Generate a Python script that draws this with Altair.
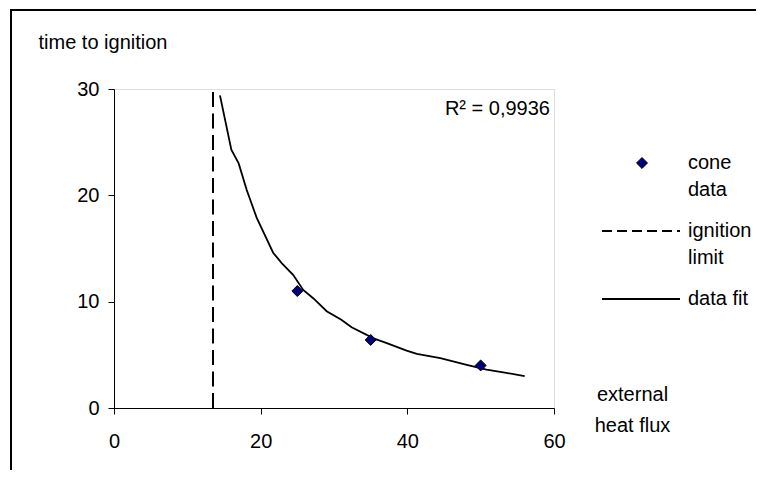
import altair as alt
import pandas as pd

# ---- data ----
cone_x = [25, 35, 50]
cone_y = [11.0, 6.4, 4.0]

limit_x = [13.5]
limit_y0 = [0]
limit_y1 = [30.3]

fit_x = [14.45, 16.0, 17.0, 18.1, 19.45, 21.7, 22.9, 24.45, 25.8, 27.2, 29.0,
         31.0, 32.4, 35.4, 37.2, 39.9, 41.3, 44.5, 48.1, 50.8, 53.5, 56.0]
fit_y = [29.4, 24.3, 23.0, 20.5, 17.9, 14.6, 13.6, 12.5, 11.1, 10.3, 9.1,
         8.3, 7.6, 6.55, 6.1, 5.4, 5.1, 4.7, 4.05, 3.6, 3.3, 3.0]

x_ticks = [0, 20, 40, 60]
y_ticks = [0, 10, 20, 30]
legend_labels = ["cone\ndata", "ignition\nlimit", "data fit"]
r2_text = "R\u00b2 = 0,9936"
y_title = "time to ignition"
x_title = ["external", "heat flux"]

FONT = "Liberation Sans, Arial, sans-serif"
FS = 20

cone_df = pd.DataFrame({"x": cone_x, "y": cone_y})
fit_df = pd.DataFrame({"x": fit_x, "y": fit_y})
limit_df = pd.DataFrame({"x": limit_x, "y": limit_y0, "y2": limit_y1})
one = pd.DataFrame({"a": [0]})
legend_df = pd.DataFrame({"label": legend_labels,
                          "ypix": [80 + 68 * i for i in range(len(legend_labels))]})

xs = alt.Scale(domain=[0, 60], nice=False)
ys = alt.Scale(domain=[0, 30], nice=False)

xaxis = alt.Axis(values=x_ticks, grid=False, domainColor="black", tickColor="black",
                 tickSize=6, labelFontSize=FS, labelFont=FONT, labelColor="black",
                 labelPadding=17, labelFlush=False, labelOverlap=False,
                 title=x_title, titleX=518, titleY=-8, titleAlign="center",
                 titleBaseline="alphabetic", titleLineHeight=31, titleFontSize=FS,
                 titleFont=FONT, titleFontWeight="normal", titleColor="black")
yaxis = alt.Axis(values=y_ticks, grid=False, domainColor="black", tickColor="black",
                 tickSize=6, labelFontSize=FS, labelFont=FONT, labelColor="black",
                 labelPadding=9, labelFlush=False, labelOverlap=False,
                 title=y_title, titleAngle=0, titleX=-76, titleY=-41,
                 titleAlign="left", titleBaseline="alphabetic", titleFontSize=FS,
                 titleFont=FONT, titleFontWeight="normal", titleColor="black")

fit = alt.Chart(fit_df).mark_line(color="black", strokeWidth=1.8).encode(
    x=alt.X("x:Q", scale=xs, axis=xaxis),
    y=alt.Y("y:Q", scale=ys, axis=yaxis),
)

limit = alt.Chart(limit_df).mark_rule(color="black", strokeWidth=2, strokeDash=[15, 6.5]).encode(
    x=alt.X("x:Q", scale=xs), y=alt.Y("y:Q", scale=ys), y2="y2:Q"
)

points = alt.Chart(cone_df).mark_point(shape="diamond", filled=True, fill="#000080",
                                       stroke="black", strokeWidth=1, size=120, opacity=1).encode(
    x=alt.X("x:Q", scale=xs), y=alt.Y("y:Q", scale=ys)
)

r2 = alt.Chart(one).mark_text(align="right", baseline="alphabetic", fontSize=FS,
                              font=FONT, color="black").encode(
    x=alt.value(436), y=alt.value(26), text=alt.value(r2_text)
)

# legend
leg_point = alt.Chart(one).mark_point(shape="diamond", filled=True, fill="#000080",
                                      stroke="black", strokeWidth=1, size=120, opacity=1).encode(
    x=alt.value(528), y=alt.value(74)
)
leg_dash = alt.Chart(one).mark_rule(color="black", strokeWidth=2, strokeDash=[10, 5]).encode(
    x=alt.value(488), x2=alt.value(566), y=alt.value(142)
)
leg_solid = alt.Chart(one).mark_rule(color="black", strokeWidth=2).encode(
    x=alt.value(488), x2=alt.value(566), y=alt.value(210)
)
leg_text = alt.Chart(legend_df).mark_text(align="left", baseline="alphabetic", lineBreak="\n",
                                          lineHeight=27, fontSize=FS, font=FONT,
                                          color="black").encode(
    x=alt.value(574), y=alt.Y("ypix:Q", scale=None), text="label:N"
)

# outer frame (top and left edges visible)
frame_top = alt.Chart(one).mark_rule(color="black", strokeWidth=2).encode(
    x=alt.value(-103), x2=alt.value(650), y=alt.value(-79)
)
frame_left = alt.Chart(one).mark_rule(color="black", strokeWidth=2).encode(
    x=alt.value(-103), y=alt.value(-80), y2=alt.value(400)
)

chart = alt.layer(
    limit, fit, points, r2, leg_point, leg_dash, leg_solid, leg_text, frame_top, frame_left
).properties(
    width=440, height=319,
    padding={"left": 106, "top": 81, "right": 202, "bottom": 62},
    autosize=alt.AutoSizeParams(type="none"),
).configure_view(
    stroke="#808080", strokeWidth=1
).configure(background="white")

chart.save("out.html", embed_options={"renderer": "svg", "actions": False})
